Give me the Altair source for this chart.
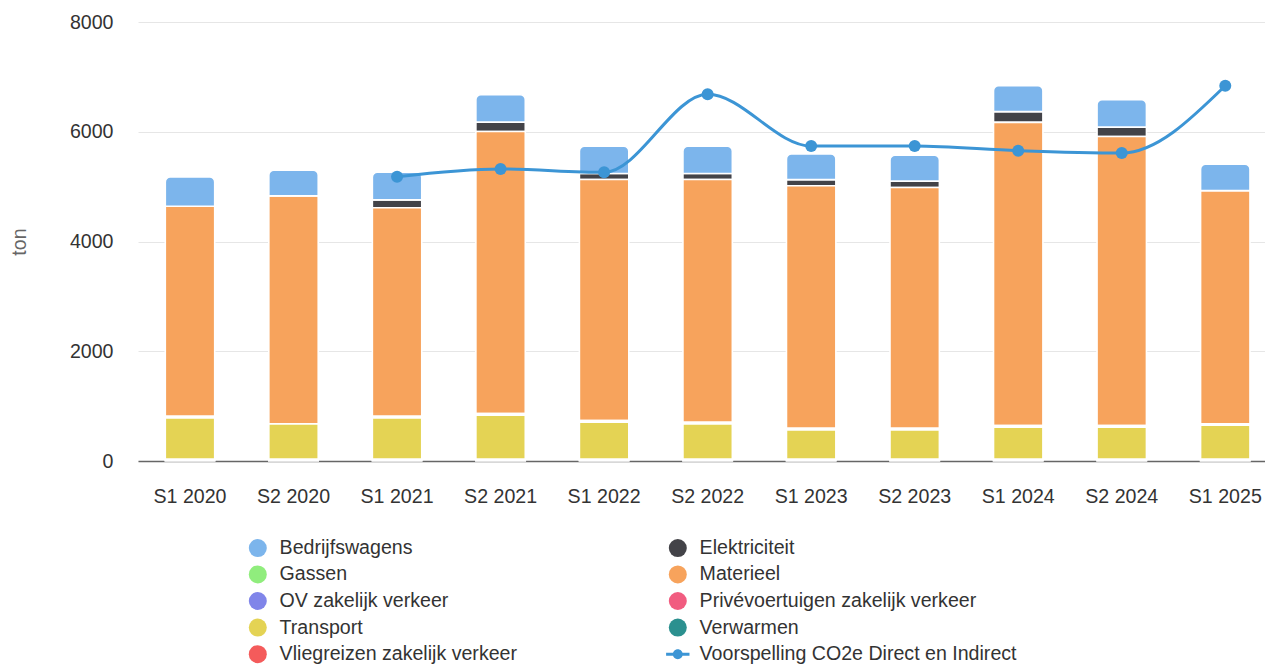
import altair as alt
import pandas as pd

# ---------------- data ----------------
periods = ["S1 2020", "S2 2020", "S1 2021", "S2 2021", "S1 2022", "S2 2022",
           "S1 2023", "S2 2023", "S1 2024", "S2 2024", "S1 2025"]

series_names = ["Bedrijfswagens", "Elektriciteit", "Gassen", "Materieel",
                "OV zakelijk verkeer", "Privévoertuigen zakelijk verkeer",
                "Transport", "Verwarmen", "Vliegreizen zakelijk verkeer"]
series_colors = ["#7cb5ec", "#434348", "#90ed7d", "#f7a35c", "#8085e9",
                 "#f15c80", "#e4d354", "#2b908f", "#f45b5b"]

line_name = "Voorspelling CO2e Direct en Indirect"
line_color = "#3c95d5"

bedrijfswagens = [534, 467, 504, 499, 496, 496, 468, 471, 473, 501, 482]
elektriciteit = [0, 0, 143, 172, 109, 109, 112, 116, 197, 170, 0]
gassen = [0, 0, 0, 0, 0, 0, 0, 0, 0, 0, 0]
materieel = [3827, 4155, 3800, 5139, 4394, 4425, 4419, 4388, 5524, 5268, 4249]
ov_zakelijk = [10, 0, 10, 10, 10, 10, 10, 10, 10, 10, 8]
privevoertuigen = [20, 0, 20, 20, 20, 20, 20, 20, 20, 20, 18]
transport = [755, 647, 755, 805, 677, 646, 537, 537, 586, 586, 622]
verwarmen = [20, 20, 20, 20, 20, 20, 20, 20, 20, 20, 20]
vliegreizen = [10, 10, 10, 10, 10, 10, 10, 10, 10, 10, 10]

forecast_periods = ["S1 2021", "S2 2021", "S1 2022", "S2 2022", "S1 2023",
                    "S2 2023", "S1 2024", "S2 2024", "S1 2025"]
forecast = [5181, 5321, 5261, 6682, 5740, 5740, 5655, 5613, 6839]

y_ticks = [0, 2000, 4000, 6000, 8000]

# ---------------- tables ----------------
all_series = [bedrijfswagens, elektriciteit, gassen, materieel, ov_zakelijk,
              privevoertuigen, transport, verwarmen, vliegreizen]
rows = []
for k, (name, vals) in enumerate(zip(series_names, all_series)):
    for p, v in zip(periods, vals):
        rows.append({"period": p, "series": name, "value": v,
                     "order": len(series_names) - 1 - k})
df = pd.DataFrame(rows)
line_df = pd.DataFrame({"period": forecast_periods, "value": forecast,
                        "series": [line_name] * len(forecast)})

domain = series_names + [line_name]
color_scale = alt.Scale(domain=domain, range=series_colors + [line_color])
line_symbol = ("M-1.3,-0.17L1.3,-0.17L1.3,0.17L-1.3,0.17Z "
               "M-0.55,0A0.55,0.55,0,1,1,0.55,0A0.55,0.55,0,1,1,-0.55,0Z")
shape_scale = alt.Scale(domain=domain, range=["circle"] * len(series_names) + [line_symbol])

FONT = "Liberation Sans"
FS = 19.6

legend = alt.Legend(
    title=None, orient="none", legendX=110, legendY=516, columns=2,
    direction="horizontal",
    columnPadding=148, rowPadding=5.6, symbolSize=324, symbolType="circle",
    symbolStrokeWidth=0, symbolOpacity=1, labelFontSize=FS, labelColor="#333333",
    labelFont=FONT, labelOffset=12, labelLimit=0, padding=0,
)

x_enc = alt.X(
    "period:N", sort=periods,
    scale=alt.Scale(paddingInner=0.5228, paddingOuter=0.2044, align=0.645),
    axis=alt.Axis(title=None, labelAngle=0, labelFontSize=FS, labelColor="#333333",
                  labelFont=FONT, labelBaseline="alphabetic", labelPadding=41,
                  ticks=False, tickSize=0, domainColor="#666666", domainWidth=1.6,
                  grid=False, zindex=0),
)
y_axis = alt.Axis(title="ton", values=y_ticks, format="d", labelFontSize=FS,
                  labelColor="#333333", labelFont=FONT, labelPadding=25, ticks=False,
                  domain=False, gridColor="#e6e6e6", gridWidth=1, titleFontSize=FS,
                  titleFontWeight="normal", titleColor="#666666", titleFont=FONT,
                  titleX=-113, titleY=219.5, titleAngle=270, titleAlign="center",
                  titleBaseline="alphabetic", zindex=0)
y_scale = alt.Scale(domain=[0, 8000], nice=False)

base = (
    alt.Chart(df)
    .transform_filter("datum.value > 0")
    .transform_stack(stack="value", groupby=["period"],
                     sort=[alt.SortField(field="order", order="ascending")],
                     as_=["y0", "y1"])
)

bars_rest = base.transform_filter("datum.series != 'Bedrijfswagens'").mark_bar(
    stroke="white", strokeWidth=1.6
).encode(
    x=x_enc,
    y=alt.Y("y0:Q", scale=y_scale, axis=y_axis),
    y2="y1:Q",
    color=alt.Color("series:N", scale=color_scale, legend=legend),
)

bars_top = base.transform_filter("datum.series == 'Bedrijfswagens'").mark_bar(
    stroke="white", strokeWidth=1.6, cornerRadiusTopLeft=5, cornerRadiusTopRight=5
).encode(
    x=x_enc,
    y=alt.Y("y0:Q", scale=y_scale, axis=y_axis),
    y2="y1:Q",
    color=alt.Color("series:N", scale=color_scale, legend=legend),
)

line = alt.Chart(line_df).mark_line(
    interpolate="monotone", strokeWidth=3
).encode(
    x=x_enc,
    y=alt.Y("value:Q", scale=y_scale, axis=y_axis),
    color=alt.Color("series:N", scale=color_scale, legend=legend),
)

# invisible layer that only provides the line+dot symbol for the legend
legend_points = alt.Chart(line_df).mark_point(
    filled=True, size=144, opacity=0
).encode(
    x=x_enc,
    y=alt.Y("value:Q", scale=y_scale, axis=y_axis),
    color=alt.Color("series:N", scale=color_scale, legend=legend),
    shape=alt.Shape("series:N", scale=shape_scale, legend=legend),
)

markers = alt.Chart(line_df).mark_circle(
    size=144, opacity=1
).encode(
    x=x_enc,
    y=alt.Y("value:Q", scale=y_scale, axis=y_axis),
    color=alt.Color("series:N", scale=color_scale, legend=legend),
)

chart = (
    alt.layer(bars_rest, bars_top, line, legend_points, markers)
    .properties(
        width=1127, height=439,
        autosize=alt.AutoSizeParams(type="none"),
        padding={"left": 138, "top": 22, "right": 0, "bottom": 203},
    )
    .configure(font=FONT)
    .configure_view(stroke=None)
)

chart.save("out.html", embed_options={"renderer": "svg", "actions": False})
